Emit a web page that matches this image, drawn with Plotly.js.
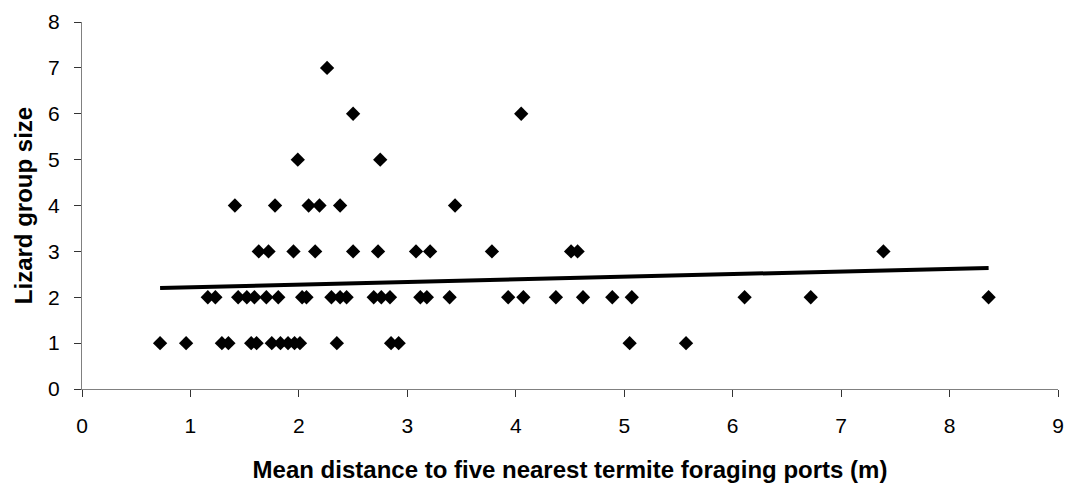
<!DOCTYPE html>
<html>
<head>
<meta charset="utf-8">
<script src="https://cdn.plot.ly/plotly-3.0.1.min.js"></script>
<style>html,body{margin:0;padding:0;background:#fff}#chart{width:1073px;height:489px}</style>
</head>
<body>
<div id="chart"></div>
<script>
// Mean distance to five nearest termite foraging ports (m)
const distance = [
  // group size 1
  0.72, 0.96, 1.29, 1.35, 1.56, 1.61, 1.75, 1.83, 1.90, 1.96, 2.01, 2.35, 2.85, 2.92, 5.05, 5.57,
  // group size 2
  1.16, 1.23, 1.44, 1.52, 1.59, 1.70, 1.81, 2.03, 2.07, 2.30, 2.38, 2.44, 2.69, 2.76, 2.84,
  3.12, 3.18, 3.39, 3.93, 4.07, 4.37, 4.62, 4.89, 5.07, 6.11, 6.72, 8.36,
  // group size 3
  1.63, 1.72, 1.95, 2.15, 2.50, 2.73, 3.08, 3.21, 3.78, 4.51, 4.57, 7.39,
  // group size 4
  1.41, 1.78, 2.09, 2.19, 2.38, 3.44,
  // group size 5
  1.99, 2.75,
  // group size 6
  2.50, 4.05,
  // group size 7
  2.26
];
const groupSize = [
  1,1,1,1,1,1,1,1,1,1,1,1,1,1,1,1,
  2,2,2,2,2,2,2,2,2,2,2,2,2,2,2,
  2,2,2,2,2,2,2,2,2,2,2,2,
  3,3,3,3,3,3,3,3,3,3,3,3,
  4,4,4,4,4,4,
  5,5,
  6,6,
  7
];
// Linear trend line endpoints
const trendX = [0.72, 8.36];
const trendY = [2.20, 2.64];

const xTicks = [0,1,2,3,4,5,6,7,8,9];
const yTicks = [0,1,2,3,4,5,6,7,8];

const traces = [
  {
    x: distance, y: groupSize, type: 'scatter', mode: 'markers',
    marker: {symbol: 'diamond', size: 11, color: '#000000', line: {width: 0}},
    showlegend: false, hoverinfo: 'x+y'
  },
  {
    x: trendX, y: trendY, type: 'scatter', mode: 'lines',
    line: {color: '#000000', width: 4},
    showlegend: false, hoverinfo: 'skip'
  }
];

const FAM = 'Liberation Sans, Arial, sans-serif';
const tickFont = {family: FAM, size: 21, color: '#000'};
const titleFont = {family: FAM, size: 24, color: '#000'};
const layout = {
  width: 1073, height: 489,
  margin: {l: 82, r: 15, t: 22, b: 100},
  paper_bgcolor: '#fff', plot_bgcolor: '#fff',
  showlegend: false,
  xaxis: {
    range: [0, 9], tickvals: xTicks, ticktext: xTicks.map(String),
    showgrid: false, zeroline: false, showline: true, linecolor: '#808080', linewidth: 1,
    ticks: 'outside', ticklen: 7, tickcolor: '#333', tickwidth: 1,
    ticklabelstandoff: 11,
    tickfont: tickFont,
    title: {text: '<b>Mean distance to five nearest termite foraging ports (m)</b>',
            font: titleFont, standoff: 24}
  },
  yaxis: {
    range: [0, 8], tickvals: yTicks, ticktext: yTicks.map(String),
    showgrid: false, zeroline: false, showline: true, linecolor: '#808080', linewidth: 1,
    ticks: 'outside', ticklen: 7, tickcolor: '#333', tickwidth: 1,
    ticklabelstandoff: 10,
    tickfont: tickFont,
    title: {text: '<b>Lizard group size</b>', font: titleFont, standoff: 8}
  }
};

Plotly.newPlot('chart', traces, layout, {displayModeBar: false, staticPlot: true});
</script>
</body>
</html>
